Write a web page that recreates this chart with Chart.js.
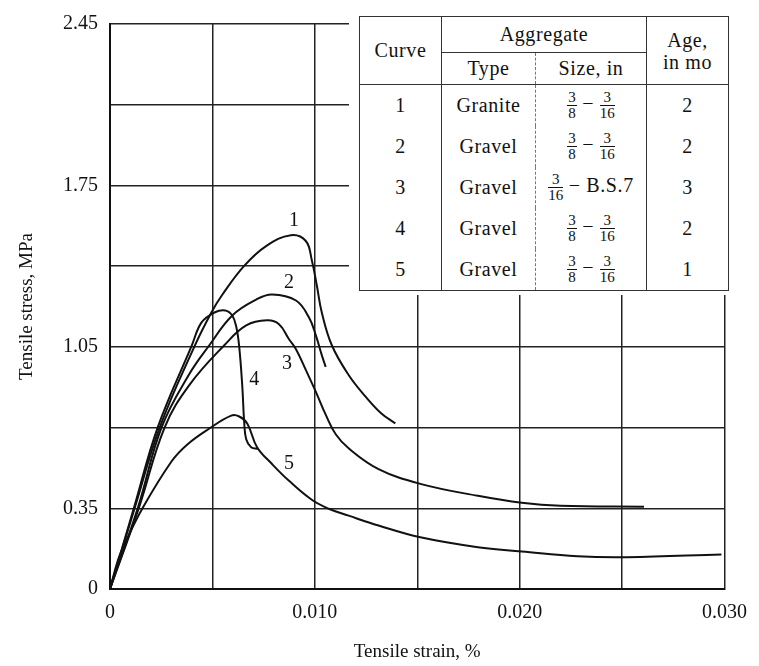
<!DOCTYPE html>
<html>
<head>
<meta charset="utf-8">
<script src="https://cdn.jsdelivr.net/npm/chart.js@4/dist/chart.umd.min.js"></script>
<style>
  html, body { margin: 0; padding: 0; background: #fff; }
  #wrap { position: relative; width: 759px; height: 666px; }
  #keyBox { position: absolute; left: 349px; top: 0; width: 410px; height: 295px; background: #fff; }
  #key {
    position: absolute; left: 10px; top: 16px; width: 369px; height: 273px;
    border-collapse: collapse; table-layout: fixed;
    border: 1.5px solid #333;
  }
  #key th, #key td {
    font-family: 'Liberation Serif', 'DejaVu Serif', serif; font-size: 20px; color: #111;
    letter-spacing: 0.6px;
    font-weight: normal; text-align: center; vertical-align: middle; padding: 0;
  }
  #key .hd1 th { height: 35px; }
  #key .hd2 th { height: 31px; }
  #key .agg { border-bottom: 1.5px solid #333; }
  #key .hd2 th, #key th.rs { border-bottom: 1.5px solid #333; }
  #key .c1 { border-right: 1.5px solid #333; }
  #key .c2 { border-right: 1px dashed #777; }
  #key .c3 { border-right: 1.5px solid #333; }
  #key tbody td { height: 41px; }
  .fr { display: inline-block; vertical-align: middle; font-size: 15px; line-height: 15px; text-align: center; letter-spacing: 0; }
  .fr span { display: block; }
  .fr span:first-child { border-bottom: 1px solid #111; padding: 0 1px; }
</style>
</head>
<body>
<div id="wrap">
  <canvas id="chart" width="759" height="666"></canvas>
  <div id="keyBox">
    <table id="key">
      <colgroup><col style="width:82px"><col style="width:94px"><col style="width:111px"><col style="width:82px"></colgroup>
      <thead>
        <tr class="hd1">
          <th rowspan="2" class="c1 rs">Curve</th>
          <th colspan="2" class="agg c3">Aggregate</th>
          <th rowspan="2" class="rs" style="line-height:22px">Age,<br>in mo</th>
        </tr>
        <tr class="hd2"><th class="c2">Type</th><th class="c3">Size, in</th></tr>
      </thead>
      <tbody>
        <tr><td class="c1">1</td><td class="c2">Granite</td><td class="c3"><span class="fr"><span>3</span><span>8</span></span> &minus; <span class="fr"><span>3</span><span>16</span></span></td><td>2</td></tr>
        <tr><td class="c1">2</td><td class="c2">Gravel</td><td class="c3"><span class="fr"><span>3</span><span>8</span></span> &minus; <span class="fr"><span>3</span><span>16</span></span></td><td>2</td></tr>
        <tr><td class="c1">3</td><td class="c2">Gravel</td><td class="c3"><span class="fr"><span>3</span><span>16</span></span> &minus; B.S.7</td><td>3</td></tr>
        <tr><td class="c1">4</td><td class="c2">Gravel</td><td class="c3"><span class="fr"><span>3</span><span>8</span></span> &minus; <span class="fr"><span>3</span><span>16</span></span></td><td>2</td></tr>
        <tr><td class="c1">5</td><td class="c2">Gravel</td><td class="c3"><span class="fr"><span>3</span><span>8</span></span> &minus; <span class="fr"><span>3</span><span>16</span></span></td><td>1</td></tr>
      </tbody>
    </table>
  </div>
</div>
<script>
const FONT = "'Liberation Serif', 'DejaVu Serif', serif"
const INK = '#111'

// curve 1 - granite
const strain1 = [0, 0.00121, 0.00243, 0.00413, 0.00495, 0.00549, 0.00655, 0.00762, 0.00883, 0.00956, 0.00985, 0.01010, 0.01034, 0.01083, 0.01165, 0.01248, 0.01325, 0.01393]
const stress1 = [0, 0.352, 0.701, 1.053, 1.199, 1.277, 1.401, 1.487, 1.534, 1.509, 1.427, 1.315, 1.199, 1.057, 0.928, 0.834, 0.761, 0.718]

// curve 2
const strain2 = [0, 0.00136, 0.00252, 0.00388, 0.00485, 0.00597, 0.00714, 0.00791, 0.00908, 0.00971, 0.01005, 0.01034, 0.01053]
const stress2 = [0, 0.352, 0.701, 0.933, 1.057, 1.186, 1.255, 1.277, 1.251, 1.178, 1.100, 1.014, 0.963]

// curve 3
const strain3 = [0, 0.00141, 0.00267, 0.00388, 0.00558, 0.00665, 0.00767, 0.00825, 0.00874, 0.00908, 0.00956, 0.01005, 0.01053, 0.01102, 0.01165, 0.01311, 0.01515, 0.01796, 0.02010, 0.02199, 0.02607]
const stress3 = [0, 0.352, 0.701, 0.885, 1.057, 1.143, 1.165, 1.148, 1.083, 1.040, 0.950, 0.855, 0.756, 0.671, 0.610, 0.520, 0.456, 0.404, 0.374, 0.361, 0.357]

// curve 4
const strain4 = [0, 0.00117, 0.00233, 0.00398, 0.00447, 0.00510, 0.00563, 0.00597, 0.00617, 0.00631, 0.00646, 0.00655, 0.00665, 0.00689, 0.00723]
const stress4 = [0, 0.352, 0.701, 1.053, 1.156, 1.199, 1.208, 1.186, 1.135, 1.049, 0.877, 0.726, 0.649, 0.615, 0.608]

// curve 5
const strain5 = [0, 0.00039, 0.00073, 0.00160, 0.00301, 0.00379, 0.00485, 0.00592, 0.00631, 0.00670, 0.00718, 0.00791, 0.00874, 0.00985, 0.01068, 0.01165, 0.01311, 0.01515, 0.01796, 0.02010, 0.02282, 0.02524, 0.02985]
const stress5 = [0, 0.125, 0.198, 0.352, 0.554, 0.628, 0.696, 0.752, 0.748, 0.718, 0.615, 0.542, 0.469, 0.387, 0.348, 0.318, 0.275, 0.224, 0.181, 0.163, 0.142, 0.138, 0.150]

const xTickValues = [0, 0.005, 0.010, 0.015, 0.020, 0.025, 0.030]
const xTickText = ['0', '', '0.010', '', '0.020', '', '0.030']
const yTickValues = [0, 0.35, 0.70, 1.05, 1.40, 1.75, 2.10, 2.45]
const yTickText = ['0', '0.35', '', '1.05', '', '1.75', '', '2.45']

// numbers written next to the curves
const curveLabelText = ['1', '2', '3', '4', '5']
const curveLabelStrain = [0.00898, 0.00874, 0.00864, 0.00704, 0.00874]
const curveLabelStress = [1.595, 1.328, 0.976, 0.907, 0.542]

const curves = [[strain1, stress1], [strain2, stress2], [strain3, stress3], [strain4, stress4], [strain5, stress5]]

const curveNumbers = {
  id: 'curveNumbers',
  afterDatasetsDraw(chart) {
    const { ctx, scales: { x, y } } = chart
    ctx.save()
    ctx.font = '20px ' + FONT
    ctx.fillStyle = INK
    ctx.textAlign = 'center'
    ctx.textBaseline = 'middle'
    curveLabelText.forEach((t, i) => {
      ctx.fillText(t, x.getPixelForValue(curveLabelStrain[i]), y.getPixelForValue(curveLabelStress[i]))
    })
    ctx.restore()
  },
}

new Chart(document.getElementById('chart'), {
  type: 'line',
  data: {
    datasets: curves.map(([sx, sy], i) => ({
      label: 'Curve ' + (i + 1),
      data: sx.map((v, k) => ({ x: v, y: sy[k] })),
      borderColor: INK,
      borderWidth: 2,
      pointRadius: 0,
      fill: false,
      tension: 0.4,
    })),
  },
  options: {
    responsive: false,
    animation: false,
    layout: { padding: { top: 19, right: 29, bottom: 0, left: 0 } },
    plugins: { legend: { display: false }, tooltip: { enabled: false } },
    scales: {
      x: {
        type: 'linear',
        min: 0,
        max: 0.03,
        afterBuildTicks: s => { s.ticks = xTickValues.map(v => ({ value: v })) },
        afterFit: s => { s.height = 77 },
        ticks: {
          callback: (v, i) => xTickText[i],
          autoSkip: false,
          maxRotation: 0,
          padding: 12,
          color: INK,
          font: { family: FONT, size: 20 },
        },
        grid: { color: '#222', lineWidth: 1.5, drawTicks: false },
        border: { color: INK, width: 2 },
        title: {
          display: true,
          text: 'Tensile strain, %',
          color: INK,
          font: { family: FONT, size: 19 },
          padding: { top: 0, bottom: 3 },
        },
      },
      y: {
        type: 'linear',
        min: 0,
        max: 2.45,
        afterBuildTicks: s => { s.ticks = yTickValues.map(v => ({ value: v })) },
        afterFit: s => { s.width = 110 },
        ticks: {
          callback: (v, i) => yTickText[i],
          autoSkip: false,
          padding: 12,
          color: INK,
          font: { family: FONT, size: 20 },
        },
        grid: { color: '#222', lineWidth: 1.5, drawTicks: false },
        border: { color: INK, width: 2 },
        title: {
          display: true,
          text: 'Tensile stress, MPa',
          color: INK,
          font: { family: FONT, size: 19 },
          padding: { top: 16, bottom: 0 },
        },
      },
    },
  },
  plugins: [curveNumbers],
})
</script>
</body>
</html>
